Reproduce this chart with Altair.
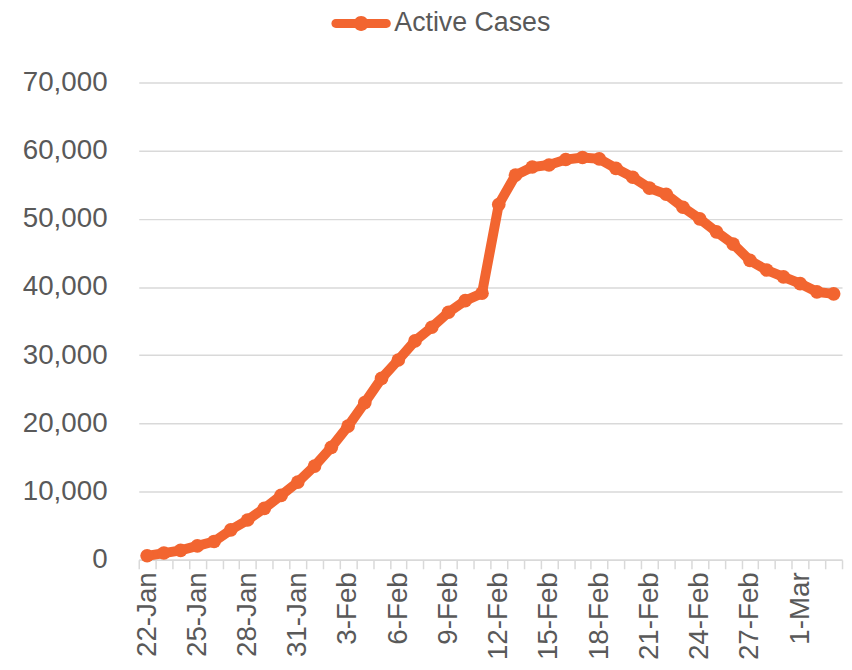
import altair as alt
import pandas as pd

dates = [
    "22-Jan", "23-Jan", "24-Jan", "25-Jan", "26-Jan", "27-Jan", "28-Jan", "29-Jan",
    "30-Jan", "31-Jan", "1-Feb", "2-Feb", "3-Feb", "4-Feb", "5-Feb", "6-Feb",
    "7-Feb", "8-Feb", "9-Feb", "10-Feb", "11-Feb", "12-Feb", "13-Feb", "14-Feb",
    "15-Feb", "16-Feb", "17-Feb", "18-Feb", "19-Feb", "20-Feb", "21-Feb", "22-Feb",
    "23-Feb", "24-Feb", "25-Feb", "26-Feb", "27-Feb", "28-Feb", "29-Feb", "1-Mar",
    "2-Mar", "3-Mar",
]
active = [
    600, 1000, 1400, 2050, 2700, 4400, 5850, 7550, 9450, 11400,
    13750, 16500, 19600, 23050, 26600, 29300, 32100, 34100, 36300, 38000,
    39100, 52100, 56400, 57600, 57900, 58700, 59000, 58800, 57400, 56100,
    54500, 53600, 51700, 50000, 48100, 46300, 43900, 42500, 41500, 40500,
    39300, 39000,
]
shown_labels = dates[::3]
y_ticks = [0, 10000, 20000, 30000, 40000, 50000, 60000, 70000]
series_name = "Active Cases"

df = pd.DataFrame({"date": dates, "active": active, "series": series_name})

ORANGE = "#F26530"
TEXT = "#595959"
GRID = "#D9D9D9"
FONT = "Liberation Sans"

label_expr = "indexof([" + ",".join("'%s'" % s for s in shown_labels) + "], datum.label) >= 0 ? datum.label : ''"

x_enc = alt.X(
    "date:O",
    sort=dates,
    bandPosition=0.5,
    scale=alt.Scale(type="band", paddingInner=0, paddingOuter=0),
    axis=alt.Axis(
        title=None,
        grid=False,
        tickBand="extent",
        domainColor=GRID,
        domainWidth=1.5,
        tickColor=GRID,
        tickWidth=1.5,
        tickSize=9,
        labelAngle=-90,
        labelFontSize=28,
        labelFont=FONT,
        labelColor=TEXT,
        labelPadding=3,
        labelExpr=label_expr,
    ),
)
y_enc = alt.Y(
    "active:Q",
    scale=alt.Scale(domain=[0, 70000]),
    axis=alt.Axis(
        title=None,
        values=y_ticks,
        format=",.0f",
        domain=False,
        ticks=False,
        labelPadding=32,
        labelFontSize=28,
        labelFont=FONT,
        labelColor=TEXT,
        gridColor=GRID,
        gridWidth=1.5,
    ),
)

# legend symbol: a thick rounded line with a dot in the middle (unit = 10 px)
symbol_path = (
    "M-2.55,-0.45 L2.55,-0.45 A0.45,0.45 0 0,1 2.55,0.45 L-2.55,0.45 A0.45,0.45 0 0,1 -2.55,-0.45 Z "
    "M-0.75,0 A0.75,0.75 0 1,1 0.75,0 A0.75,0.75 0 1,1 -0.75,0 Z"
)

line = alt.Chart(df).mark_line(color=ORANGE, strokeWidth=10).encode(x=x_enc, y=y_enc)
points = alt.Chart(df).mark_point(filled=True, size=190, opacity=1).encode(
    x=x_enc,
    y=y_enc,
    color=alt.Color(
        "series:N",
        scale=alt.Scale(range=[ORANGE]),
        legend=alt.Legend(
            title=None,
            orient="none",
            legendX=211,
            legendY=-73,
            padding=0,
            symbolType=symbol_path,
            symbolSize=400,
            symbolStrokeWidth=0,
            symbolOpacity=1,
            labelFontSize=27,
            labelFont=FONT,
            labelColor=TEXT,
            labelOffset=20,
        ),
    ),
)

chart = (
    alt.layer(line, points)
    .properties(
        width=710,
        height=482,
        autosize=alt.AutoSizeParams(type="none"),
        padding={"left": 132, "top": 72, "right": 2, "bottom": 104},
    )
    .configure_view(stroke=None)
)

chart.save("out.html", embed_options={"renderer": "svg", "actions": False})
